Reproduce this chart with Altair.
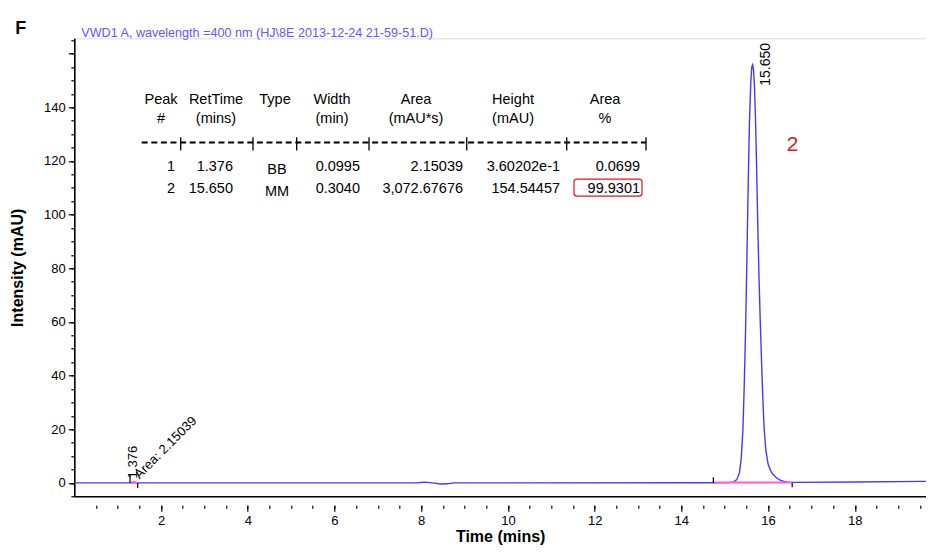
import altair as alt
import pandas as pd

# ---------------- data ----------------
time_min = [0.0, 1.25, 1.30, 1.376, 1.44, 1.50, 7.90, 8.05, 8.15, 8.30, 8.45, 8.60, 8.75,
            14.70, 15.10, 15.20, 15.28, 15.34, 15.38, 15.42, 15.45, 15.48, 15.51, 15.54,
            15.57, 15.60, 15.625, 15.645, 15.665, 15.685, 15.71, 15.735, 15.76, 15.79,
            15.82, 15.85, 15.88, 15.91, 15.95, 16.00, 16.06, 16.12, 16.20, 16.28, 16.36,
            16.45, 16.60, 18.00, 19.64]
intensity = [0.0, 0.0, 0.05, 0.36, 0.05, 0.0, 0.0, 0.25, 0.2, -0.1, -0.4, -0.35, 0.0,
             0.05, 0.1, 0.3, 1.2, 3.8, 9.0, 20.0, 36.0, 56.0, 82.0, 110.0,
             134.0, 149.0, 155.0, 155.8, 154.0, 148.0, 136.0, 118.0, 98.0, 77.0,
             60.0, 45.0, 31.0, 20.0, 12.0, 7.0, 4.5, 3.0, 1.8, 1.0, 0.55,
             0.3, 0.2, 0.35, 0.55]

peak_rt = ["1.376", "15.650"]
peak_start = [1.285, 14.737]
peak_end = [1.462, 16.556]
peak_start_mark = [3.0, 2.1]
peak_end_mark = [-1.9, -1.6]

header_1 = ["Peak", "RetTime", "Type", "Width", "Area", "Height", "Area"]
header_2 = ["#", "(mins)", "", "(min)", "(mAU*s)", "(mAU)", "%"]
row_1 = ["1", "1.376", "BB", "0.0995", "2.15039", "3.60202e-1", "0.0699"]
row_2 = ["2", "15.650", "MM", "0.3040", "3,072.67676", "154.54457", "99.9301"]

signal_title = "VWD1 A, wavelength =400 nm (HJ\\8E 2013-12-24 21-59-51.D)"
area_label = "Area: 2.15039"
panel_label = "F"
peak_number = "2"

# ---------------- layout (positions in axis units) ----------------
X_DOM = [0, 19.642]
Y_DOM = [-5, 165.7]
header_x = [2.0, 3.268, 4.629, 5.943, 7.881, 10.118, 12.24]
cell_x = [2.322, 3.660, 4.675, 6.589, 8.965, 11.202, 13.047]
header_y = [141.2, 134.3]
row_y = [116.3, 108.2]
type_drop = 1.2
dash_x = [1.554, 13.185]
dash_y = 126.9
sep_x = [2.454, 4.121, 5.129, 6.797, 9.05, 11.356, 13.185]
sep_y = [123.9, 128.8]
box_x = [11.524, 13.093]
box_y = [106.9, 113.2]

FONT = "Liberation Sans"
TRACE = "#4b36ff"
PINK = "#ff55ff"
RED = "#e3141c"

xs = alt.Scale(domain=X_DOM, nice=False, zero=False)
ys = alt.Scale(domain=Y_DOM, nice=False, zero=False)

trace_df = pd.DataFrame({"t": time_min, "v": intensity})

x_major = alt.Axis(values=list(range(2, 19, 2)), orient="bottom", offset=9, domain=False,
                   tickSize=6, tickColor="black", tickWidth=1.2, labelFontSize=13,
                   labelColor="black", labelPadding=3, labelFont=FONT, grid=False,
                   title="Time (mins)", titleFont=FONT, titleFontSize=16,
                   titleFontWeight="bold", titleColor="black", titlePadding=1)
x_minor = alt.Axis(values=[i * 0.5 for i in range(1, 40)], orient="bottom", offset=9,
                   domain=False, tickSize=3, tickColor="black", tickWidth=1.2,
                   labels=False, grid=False, title=None)
x_frame = alt.Axis(orient="bottom", domain=True, domainColor="black", domainWidth=1.6,
                   ticks=False, labels=False, grid=False, title=None)
y_major = alt.Axis(values=list(range(0, 161, 20)), orient="left", domain=True,
                   domainColor="black", domainWidth=1.6, tickSize=6, tickColor="black",
                   tickWidth=1.2, labelFontSize=13, labelColor="black", labelFont=FONT,
                   labelPadding=3, labelExpr="datum.value > 150 ? '' : datum.label",
                   grid=False, title="Intensity (mAU)", titleFont=FONT, titleFontSize=16,
                   titleFontWeight="bold", titleColor="black", titlePadding=18)
y_minor = alt.Axis(values=list(range(-5, 166, 5)), orient="left", domain=False,
                   tickSize=3.5, tickColor="black", tickWidth=1.2, labels=False,
                   grid=False, title=None)

trace = alt.Chart(trace_df).mark_line(color=TRACE, strokeWidth=1.4).encode(
    x=alt.X("t:Q", scale=xs, axis=x_major),
    y=alt.Y("v:Q", scale=ys, axis=y_major),
)

base_df = pd.DataFrame({"s": peak_start, "e": peak_end, "v": [0.0, 0.1]})
baseline = alt.Chart(base_df).mark_rule(color=PINK, strokeWidth=2).encode(
    x=alt.X("s:Q", scale=xs, axis=x_minor), x2="e:Q",
    y=alt.Y("v:Q", scale=ys, axis=y_minor),
)

mark_df = pd.DataFrame({
    "t": peak_start + peak_end,
    "v2": peak_start_mark + peak_end_mark,
    "v": [0.0] * 4,
})
peak_marks = alt.Chart(mark_df).mark_rule(color="black", strokeWidth=1.2).encode(
    x=alt.X("t:Q", scale=xs, axis=x_frame),
    y=alt.Y("v:Q", scale=ys, axis=None), y2="v2:Q",
)

# retention-time labels
rt_df = pd.DataFrame({"t": [1.44, 16.045], "v": [1.67, 148.0], "txt": peak_rt})
rt_small = alt.Chart(rt_df.iloc[[0]]).mark_text(angle=270, align="left", baseline="alphabetic",
                                                 font=FONT, fontSize=13, color="black").encode(
    x=alt.X("t:Q", scale=xs, axis=None), y=alt.Y("v:Q", scale=ys, axis=None), text="txt:N")
rt_big = alt.Chart(rt_df.iloc[[1]]).mark_text(angle=270, align="left", baseline="alphabetic",
                                               font=FONT, fontSize=14, color="black").encode(
    x=alt.X("t:Q", scale=xs, axis=None), y=alt.Y("v:Q", scale=ys, axis=None), text="txt:N")
area_df = pd.DataFrame({"t": [1.504], "v": [1.3], "txt": [area_label]})
area_txt = alt.Chart(area_df).mark_text(angle=315, align="left", baseline="alphabetic",
                                         font=FONT, fontSize=13, color="black").encode(
    x=alt.X("t:Q", scale=xs, axis=None), y=alt.Y("v:Q", scale=ys, axis=None), text="txt:N")

num_df = pd.DataFrame({"t": [16.564], "v": [123.7], "txt": [peak_number]})
num_txt = alt.Chart(num_df).mark_text(align="center", baseline="alphabetic", font=FONT,
                                       fontSize=21, color=RED).encode(
    x=alt.X("t:Q", scale=xs, axis=None), y=alt.Y("v:Q", scale=ys, axis=None), text="txt:N")

# table
hdr_rows = []
for hx, a, b in zip(header_x, header_1, header_2):
    hdr_rows.append({"t": hx, "v": header_y[0], "txt": a})
    hdr_rows.append({"t": hx, "v": header_y[1], "txt": b})
hdr = alt.Chart(pd.DataFrame(hdr_rows)).mark_text(align="center", baseline="alphabetic",
                                                 font=FONT, fontSize=14.5, color="black").encode(
    x=alt.X("t:Q", scale=xs, axis=None), y=alt.Y("v:Q", scale=ys, axis=None), text="txt:N")

cell_rows, type_rows = [], []
for ry, row in zip(row_y, [row_1, row_2]):
    for i, (cx, val) in enumerate(zip(cell_x, row)):
        if i == 2:
            type_rows.append({"t": cx, "v": ry - type_drop, "txt": val})
        else:
            cell_rows.append({"t": cx, "v": ry, "txt": val})
cells = alt.Chart(pd.DataFrame(cell_rows)).mark_text(align="right", baseline="alphabetic",
                                                    font=FONT, fontSize=14.5, color="black").encode(
    x=alt.X("t:Q", scale=xs, axis=None), y=alt.Y("v:Q", scale=ys, axis=None), text="txt:N")
types = alt.Chart(pd.DataFrame(type_rows)).mark_text(align="center", baseline="alphabetic",
                                                    font=FONT, fontSize=14.5, color="black").encode(
    x=alt.X("t:Q", scale=xs, axis=None), y=alt.Y("v:Q", scale=ys, axis=None), text="txt:N")

dash = alt.Chart(pd.DataFrame({"a": [dash_x[0]], "b": [dash_x[1]], "v": [dash_y]})).mark_rule(
    color="black", strokeWidth=2, strokeDash=[6, 3.6]).encode(
    x=alt.X("a:Q", scale=xs, axis=None), x2="b:Q", y=alt.Y("v:Q", scale=ys, axis=None))
seps = alt.Chart(pd.DataFrame({"t": sep_x, "a": [sep_y[0]] * len(sep_x),
                               "b": [sep_y[1]] * len(sep_x)})).mark_rule(
    color="black", strokeWidth=1.3).encode(
    x=alt.X("t:Q", scale=xs, axis=None), y=alt.Y("a:Q", scale=ys, axis=None), y2="b:Q")

box = alt.Chart(pd.DataFrame({"a": [box_x[0]], "b": [box_x[1]], "c": [box_y[0]],
                              "d": [box_y[1]]})).mark_rect(
    fill="transparent", stroke=RED, strokeWidth=1.2, cornerRadius=3).encode(
    x=alt.X("a:Q", scale=xs, axis=None), x2="b:Q",
    y=alt.Y("c:Q", scale=ys, axis=None), y2="d:Q")

sig = alt.Chart(pd.DataFrame({"txt": [signal_title]})).mark_text(
    align="left", baseline="alphabetic", font=FONT, fontSize=12.6, color="#6655ff").encode(
    x=alt.value(7), y=alt.value(-1), text="txt:N")
panel = alt.Chart(pd.DataFrame({"txt": [panel_label]})).mark_text(
    align="left", baseline="alphabetic", font=FONT, fontSize=18, fontWeight="bold",
    color="black").encode(x=alt.value(-59), y=alt.value(-4), text="txt:N")

chart = alt.layer(
    trace, baseline, peak_marks, rt_small, rt_big, area_txt, num_txt,
    hdr, cells, types, dash, seps, box, sig, panel,
).resolve_axis(x="independent", y="independent").properties(
    width=851.7, height=458,
    padding={"left": 66.3, "top": 30.3, "right": 0, "bottom": 50.7},
    autosize=alt.AutoSizeParams(type="none"),
).configure_view(stroke=None).configure(background="white")

chart.save("out.html", embed_options={"renderer": "svg", "actions": False})
